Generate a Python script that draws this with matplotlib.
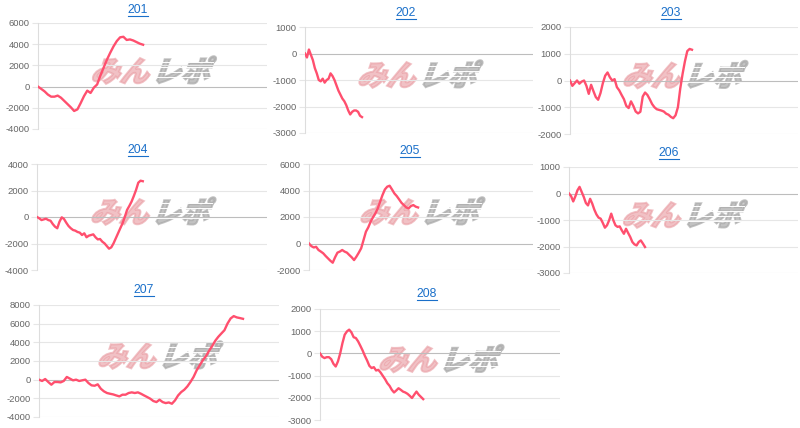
import matplotlib
matplotlib.use("Agg")
import matplotlib.pyplot as plt
import numpy as np
from matplotlib.lines import Line2D
from matplotlib.patches import PathPatch
from matplotlib.textpath import TextPath
from matplotlib.font_manager import FontProperties
from matplotlib.transforms import Affine2D, IdentityTransform

plt.rcParams['font.family'] = ['Liberation Sans', 'DejaVu Sans']

# ---- data ----
titles = ["201", "202", "203", "204", "205", "206", "207", "208"]

p201 = [0, -220, -450, -750, -950, -950, -850, -1050, -1350, -1650, -1950, -2300, -2150,
        -1550, -900, -380, -600, -100, 200, 1050, 1800, 2550, 3200, 3800, 4300, 4650, 4700,
        4400, 4450, 4350, 4200, 4050, 3950]
p202 = [0, -150, 150, -50, -250, -550, -750, -1000, -1050, -950, -1100, -1000, -950, -750,
        -850, -1000, -1200, -1400, -1550, -1700, -1800, -1950, -2150, -2300, -2200, -2150,
        -2150, -2200, -2350, -2400]
p203 = [0, -200, -100, 0, -120, -40, 0, -200, -500, -160, -400, -620, -720, -470, -100, 180,
        300, 120, 0, 50, -250, -370, -540, -700, -950, -1030, -780, -950, -1160, -1230, -1170,
        -600, -450, -540, -700, -880, -1000, -1075, -1100, -1125, -1160, -1240, -1280, -1360,
        -1410, -1300, -1000, -300, 250, 720, 1100, 1180, 1150]
p204 = [0, -100, -230, -180, -130, -230, -280, -530, -730, -850, -350, -25, -150, -430, -680,
        -850, -980, -1030, -1130, -1180, -1360, -1230, -1530, -1410, -1360, -1310, -1530, -1690,
        -1660, -1860, -1990, -2190, -2390, -2290, -1990, -1610, -1230, -850, -480, 0, 530, 830,
        1160, 1580, 2040, 2590, 2740, 2700]
p205 = [0, -200, -300, -250, -490, -610, -740, -940, -1120, -1300, -1450, -1040, -690, -610,
        -490, -610, -690, -870, -1040, -1250, -990, -690, -360, 260, 890, 1220, 1650, 1980,
        2280, 2650, 3160, 3660, 4080, 4290, 4360, 4080, 3780, 3580, 3330, 3070, 2900, 2720,
        2650, 2830, 2900, 2780, 2720]
p206 = [0, -100, -300, -110, 120, 250, 60, -130, -360, -450, -200, -380, -610, -790, -910,
        -950, -1110, -1290, -1200, -1010, -760, -1010, -1200, -1260, -1240, -1390, -1520, -1330,
        -1490, -1640, -1830, -1920, -1960, -1830, -1770, -1890, -2020]
p207 = [0, -140, 70, -250, -540, -250, -250, -290, -140, 290, 110, -70, 0, -140, -70, 0, -360,
        -610, -650, -500, -970, -1250, -1430, -1510, -1580, -1690, -1790, -1610, -1610, -1430,
        -1360, -1430, -1360, -1510, -1690, -1860, -2040, -2290, -2400, -2150, -2400, -2510,
        -2440, -2580, -2220, -1690, -1330, -1080, -720, -250, 290, 1000, 1540, 2080, 2510, 3080,
        3580, 4160, 4590, 4950, 5300, 6020, 6560, 6810, 6670, 6600, 6520]
p208 = [0, -150, -210, -170, -170, -260, -470, -590, -360, 0, 460, 840, 990, 1070, 950, 730,
        690, 540, 340, 130, -110, -320, -560, -660, -620, -770, -740, -860, -1010, -1160, -1340,
        -1460, -1640, -1760, -1670, -1570, -1640, -1720, -1760, -1820, -1910, -2010, -1860,
        -1720, -1860, -1960, -2060]
series = [p201, p202, p203, p204, p205, p206, p207, p208]

# y axis ranges (min, max, step)
yscales = [(-4000, 6000, 2000), (-3000, 1000, 1000), (-2000, 2000, 1000), (-4000, 4000, 2000),
           (-2000, 6000, 2000), (-3000, 1000, 1000), (-4000, 8000, 2000), (-3000, 2000, 1000)]

# ---- layout (pixels) ----
W, H = 800, 428
# plot area: left, top, right, bottom
boxes = [(38, 23, 267, 129), (305, 27, 533, 133), (570, 27, 798, 134),
         (37, 164, 267, 270), (309, 164, 533, 270), (569, 167, 798, 273),
         (39, 305, 279, 417), (320, 309, 560, 420)]
# share of the x axis the line covers
spans = [0.459, 0.25, 0.535, 0.46, 0.487, 0.332, 0.85, 0.43]
title_pos = [(138, 10), (406, 13), (671, 13), (138, 150), (410, 151), (669, 153),
             (144, 290), (427, 294)]

LINE = '#ff4f6e'
GRID = '#e6e6e6'
LINK = '#1a6fc9'

fig = plt.figure(figsize=(W / 100, H / 100), dpi=100)
fig.patch.set_facecolor('white')

wm_font = FontProperties(family='Noto Sans CJK JP', weight='heavy')


def watermark(cx, cy):
    # "みんレポ" logo, skewed; pink + gray with speed lines
    size = 29
    p1 = TextPath((0, 0), 'みん', size=size, prop=wm_font)
    p2 = TextPath((0, 0), 'レポ', size=size, prop=wm_font)
    w1 = p1.get_extents().width
    w2 = p2.get_extents().width
    gap = 5
    total = w1 + w2 + gap
    x0 = cx - total / 2 - 6
    y0 = (H - cy) - size * 0.4
    sk = Affine2D().skew_deg(20, 0)
    t1 = sk + Affine2D().translate(x0, y0)
    t2 = sk + Affine2D().translate(x0 + w1 + gap, y0)
    fig.add_artist(PathPatch(p1, transform=t1 + IdentityTransform(), fc='#eaa0a6',
                             ec='#eaa0a6', lw=1.4, alpha=0.65, zorder=-1))
    fig.add_artist(PathPatch(p2, transform=t2 + IdentityTransform(), fc='#a8a8a8',
                             ec='#a8a8a8', lw=1.4, alpha=0.7, zorder=-1))
    # thin white stripes through the gray half
    xs = x0 + w1 + gap - 2
    for k in range(4):
        yy = (H - cy) - 7 + k * 5
        fig.add_artist(Line2D([xs / W, (xs + w2 + 12) / W], [yy / H, yy / H], color='white',
                              lw=0.7, transform=fig.transFigure, zorder=-0.5))


title_texts = []
for i, (vals, box) in enumerate(zip(series, boxes)):
    l, t, r, b = box
    ax = fig.add_axes([l / W, 1 - b / H, (r - l) / W, (b - t) / H])
    ax.set_facecolor('none')
    n = len(vals)
    ax.plot(np.arange(n), vals, color=LINE, lw=1.7, solid_joinstyle='round', zorder=3)
    ax.set_xlim(0, (n - 1) / spans[i])
    lo, hi, step = yscales[i]
    ax.set_ylim(lo, hi)
    ticks = np.arange(lo, hi + 1, step)
    ax.set_yticks(ticks)
    ax.set_yticklabels([str(v) for v in ticks])
    ax.set_xticks([])
    ax.tick_params(axis='y', length=4, width=0.8, color=GRID, pad=2,
                   labelsize=6.8, labelcolor='#666666')
    for v in ticks:
        ax.axhline(v, color='#bdbdbd' if v == 0 else GRID, lw=0.8, zorder=1)
    for s in ['top', 'right', 'bottom']:
        ax.spines[s].set_visible(False)
    ax.spines['left'].set_color('#dddddd')
    ax.spines['left'].set_linewidth(0.8)

    watermark((l + r) / 2, (t + b) / 2 - 6)

    tx, ty = title_pos[i]
    txt = fig.text(tx / W, 1 - ty / H, titles[i], color=LINK, fontsize=8.7,
                   ha='center', va='center')
    title_texts.append(txt)

# underline the titles like links
renderer = fig.canvas.get_renderer()
for txt in title_texts:
    bb = txt.get_window_extent(renderer)
    y = bb.y0 + 0.5
    fig.add_artist(Line2D([bb.x0 / W, bb.x1 / W], [y / H, y / H], color=LINK, lw=0.8,
                          transform=fig.transFigure))

fig.savefig('out.png', dpi=100)
